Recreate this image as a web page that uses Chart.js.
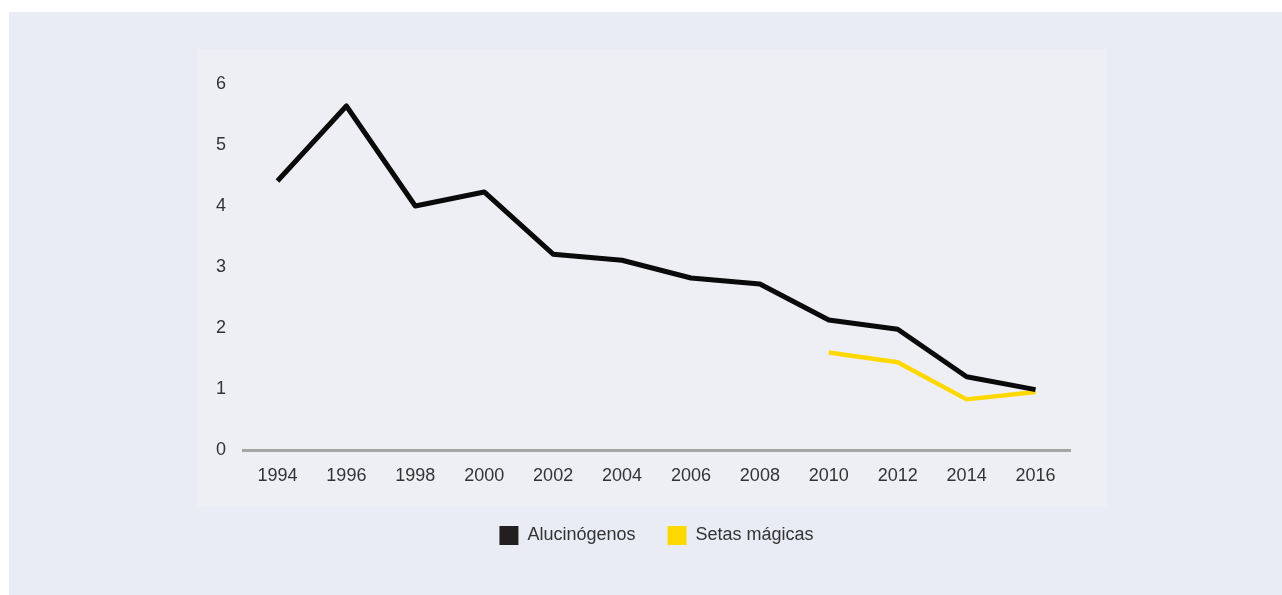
<!DOCTYPE html>
<html lang="es">
<head>
  <meta charset="UTF-8">
  <title>Alucinógenos y setas mágicas</title>
  <script src="https://cdn.jsdelivr.net/npm/chart.js@4/dist/chart.umd.min.js"></script>
  <style>
    html, body { margin: 0; padding: 0; background: #ffffff; }
    #outer { position: absolute; left: 9px; top: 12px; width: 1273px; height: 583px; background: #e9ecf4; }
    #panel { position: absolute; left: 197px; top: 49px; width: 910px; height: 458px; background: #eeeff5; }
    #wrap { position: absolute; left: 0; top: 0; width: 1282px; height: 595px; }
  </style>
</head>
<body>
  <div id="outer"></div>
  <div id="panel"></div>
  <div id="wrap"><canvas id="chart-canvas"></canvas></div>
  <script>
    const years = ['1994', '1996', '1998', '2000', '2002', '2004', '2006', '2008', '2010', '2012', '2014', '2016'];
    const alucinogenos = [4.41, 5.64, 4.0, 4.23, 3.21, 3.11, 2.82, 2.72, 2.13, 1.98, 1.2, 0.99];
    const setasMagicas = [null, null, null, null, null, null, null, null, 1.6, 1.44, 0.83, 0.95];
    const yTicks = [0, 1, 2, 3, 4, 5, 6];

    const font = { family: "'Liberation Sans', Arial, sans-serif", size: 18 };
    const textColor = '#333333';

    const ctx = document.getElementById('chart-canvas').getContext('2d');
    new Chart(ctx, {
      type: 'line',
      data: {
        labels: years,
        datasets: [
          {
            label: 'Alucinógenos',
            data: alucinogenos,
            borderColor: '#0a0a0a',
            backgroundColor: '#231f20',
            borderWidth: 5,
            pointRadius: 0,
            tension: 0,
            borderJoinStyle: 'round'
          },
          {
            label: 'Setas mágicas',
            data: setasMagicas,
            borderColor: '#ffd800',
            backgroundColor: '#ffd800',
            borderWidth: 4.5,
            pointRadius: 0,
            tension: 0,
            borderJoinStyle: 'round'
          }
        ]
      },
      options: {
        responsive: true,
        maintainAspectRatio: false,
        animation: false,
        layout: { padding: { left: 183, right: 212, top: 84, bottom: 40 } },
        plugins: {
          tooltip: { enabled: false },
          legend: {
            position: 'bottom',
            fullSize: false,
            labels: {
              boxWidth: 19,
              boxHeight: 19,
              padding: 32,
              color: textColor,
              font: { family: font.family, size: 18 },
              generateLabels: chart => Chart.defaults.plugins.legend.labels.generateLabels(chart)
                .map(item => Object.assign(item, {
                  fillStyle: chart.data.datasets[item.datasetIndex].backgroundColor,
                  lineWidth: 0
                }))
            }
          }
        },
        scales: {
          x: {
            offset: true,
            grid: { display: false, drawTicks: false },
            border: { display: true, color: '#a6a6a6', width: 3 },
            ticks: { color: textColor, font: font, padding: 15, maxRotation: 0 },
            afterFit: s => { s.height = 44; }
          },
          y: {
            min: 0,
            max: 6,
            afterBuildTicks: s => { s.ticks = yTicks.map(v => ({ value: v })); },
            grid: { display: false, drawTicks: false },
            border: { display: false },
            ticks: { color: textColor, font: font, padding: 17 },
            afterFit: s => { s.width = 60; }
          }
        }
      }
    });
  </script>
</body>
</html>
